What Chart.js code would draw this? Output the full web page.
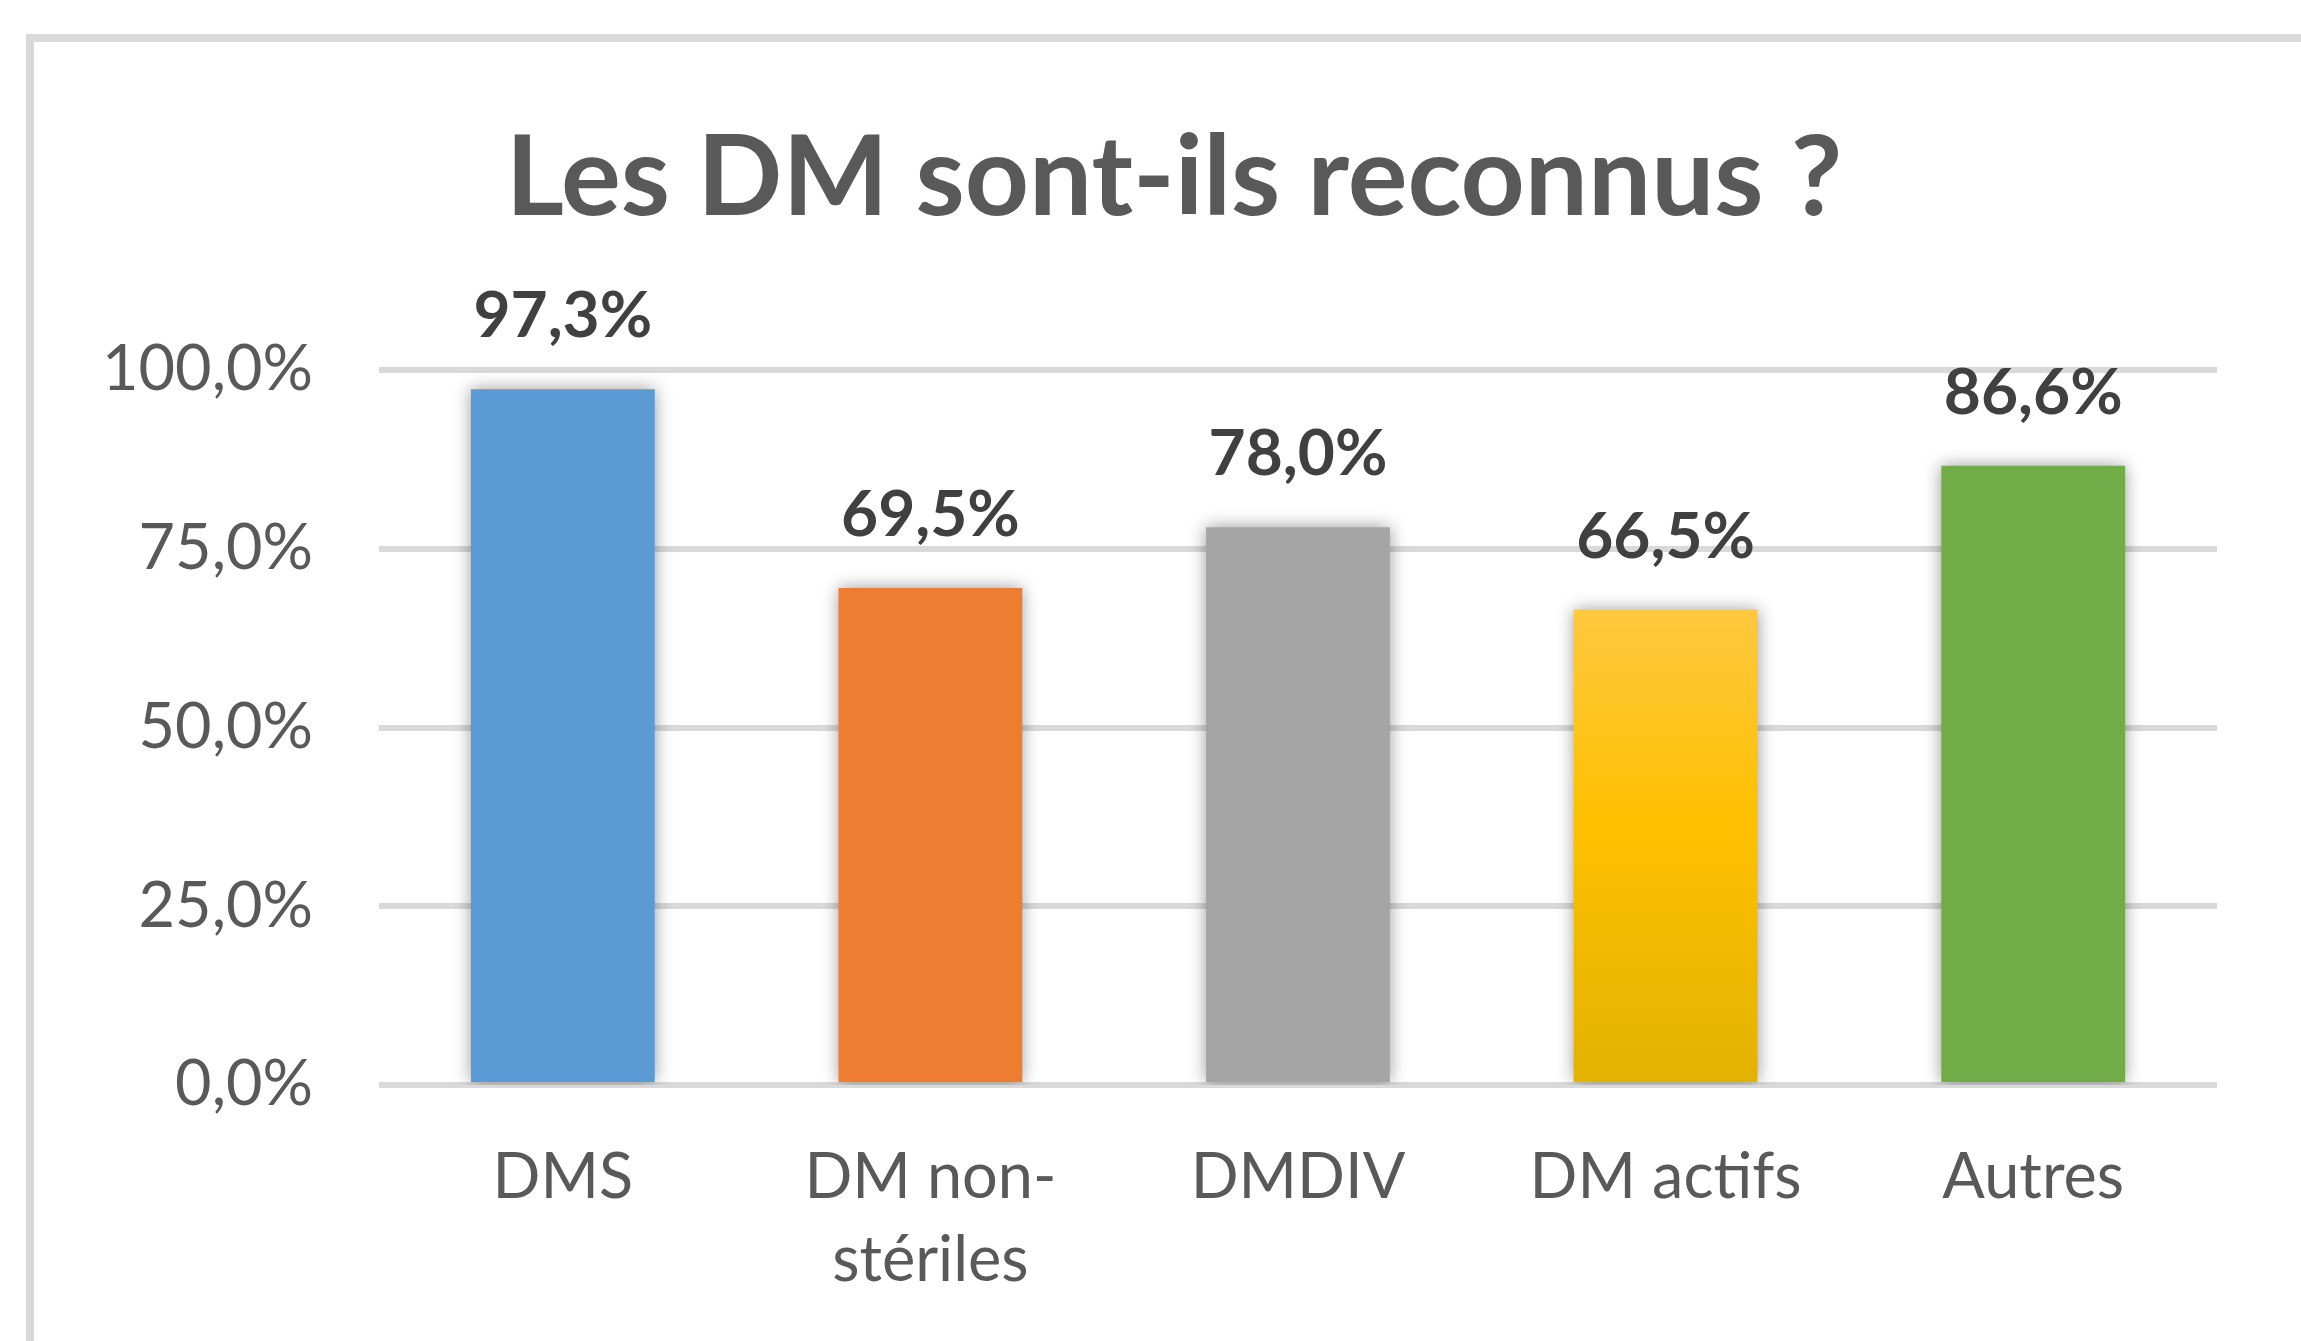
<!DOCTYPE html>
<html>
<head>
<meta charset="utf-8">
<script src="https://cdn.jsdelivr.net/npm/chart.js@4"></script>
<style>
  html, body { margin: 0; padding: 0; background: #fff; overflow: hidden; }
  canvas { display: block; }
</style>
</head>
<body>
<canvas id="myChart" width="2301" height="1341"></canvas>
<script>
// chart data
var categories = ['DMS', ['DM non-', 'stériles'], 'DMDIV', 'DM actifs', 'Autres'];
var values = [97.3, 69.5, 78.0, 66.5, 86.6];
var barColors = ['#5b9bd5', '#ed7d31', '#a5a5a5', '#ffc000', '#70ad47'];
var yMin = 0, yMax = 100, yStep = 25;

function pct(v) {
    return v.toFixed(1).replace('.', ',') + '%';
}

// yellow bar has a light to dark gradient
function barFill(context) {
    var i = context.dataIndex;
    var chart = context.chart;
    if (i !== 3 || !chart.chartArea) return barColors[i];
    var y = chart.scales.y;
    var top = y.getPixelForValue(values[i]);
    var bottom = y.getPixelForValue(0);
    var g = chart.ctx.createLinearGradient(0, top, 0, bottom);
    g.addColorStop(0, '#ffc83f');
    g.addColorStop(0.45, '#ffc000');
    g.addColorStop(1, '#e2b200');
    return g;
}

var frame = {
    id: 'frame',
    afterLayout: function (chart) {
        // let the y tick labels run past the left padding without being clipped
        chart.scales.y.left = 0;
    },
    beforeDraw: function (chart) {
        var c = chart.ctx;
        c.save();
        c.fillStyle = '#d9d9d9';
        c.fillRect(26, 34, chart.width, 8);
        c.fillRect(26, 34, 8, chart.height);
        c.restore();
    }
};

var shadowAndLabels = {
    id: 'shadowAndLabels',
    beforeDatasetsDraw: function (chart) {
        var c = chart.ctx;
        c.save();
        c.shadowColor = 'rgba(0,0,0,0.4)';
        c.shadowBlur = 16;
    },
    afterDatasetsDraw: function (chart) {
        var c = chart.ctx;
        c.restore();
        var meta = chart.getDatasetMeta(0);
        c.save();
        c.font = 'bold 64px Lato';
        c.fillStyle = '#404040';
        c.textAlign = 'center';
        c.textBaseline = 'alphabetic';
        meta.data.forEach(function (bar, i) {
            c.fillText(pct(values[i]), bar.x, bar.y - 52);
        });
        c.restore();
    }
};

var ctx = document.getElementById('myChart').getContext('2d');
var myChart = new Chart(ctx, {
    type: 'bar',
    data: {
        labels: categories,
        datasets: [{
            data: values,
            backgroundColor: barFill,
            borderWidth: 0,
            categoryPercentage: 1,
            barPercentage: 0.5
        }]
    },
    options: {
        responsive: false,
        animation: false,
        devicePixelRatio: 1,
        layout: { padding: { left: 131, right: 84, top: 0, bottom: 0 } },
        plugins: {
            legend: { display: false },
            tooltip: { enabled: false },
            title: {
                display: true,
                text: 'Les DM sont-ils reconnus ?',
                color: '#595959',
                font: { family: 'Lato', size: 112, weight: 'bold', lineHeight: 1.2 },
                padding: { top: 112, bottom: 123.6 }
            }
        },
        scales: {
            x: {
                grid: { display: false },
                border: { display: false },
                ticks: {
                    color: '#595959',
                    font: { family: 'Lato', size: 63, lineHeight: 83 / 63 },
                    padding: 43,
                    maxRotation: 0,
                    autoSkip: false
                },
                afterFit: function (scale) { scale.height = 256; }
            },
            y: {
                min: yMin,
                max: yMax,
                grid: { color: '#d9d9d9', lineWidth: 6, drawTicks: false },
                border: { display: false },
                ticks: {
                    stepSize: yStep,
                    color: '#595959',
                    font: { family: 'Lato', size: 63 },
                    padding: 66,
                    callback: function (v) { return pct(v); }
                },
                afterFit: function (scale) { scale.width = 248; }
            }
        }
    },
    plugins: [frame, shadowAndLabels]
});
</script>
</body>
</html>
